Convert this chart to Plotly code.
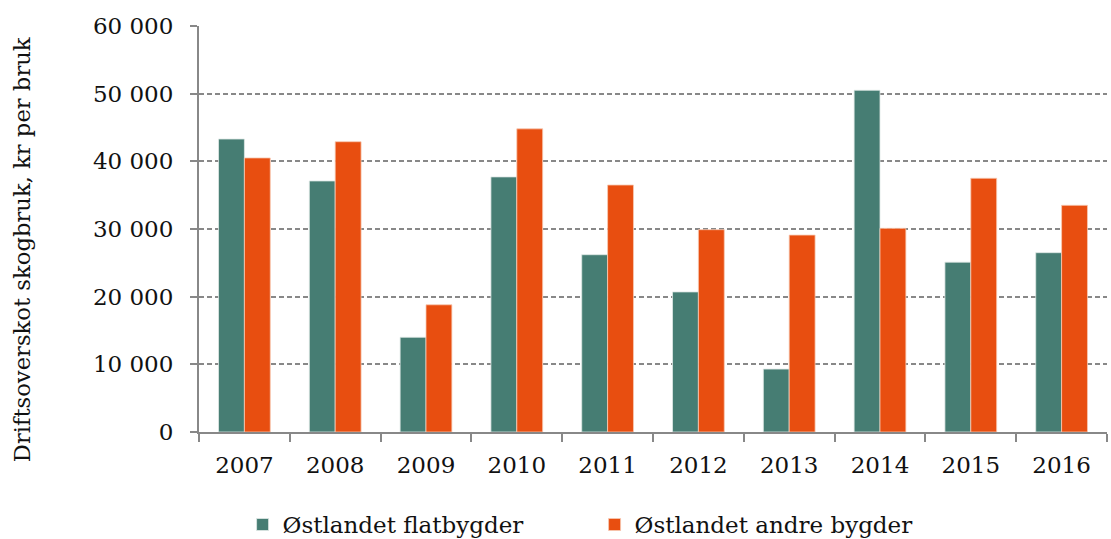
import plotly.graph_objects as go

years = ["2007", "2008", "2009", "2010", "2011", "2012", "2013", "2014", "2015", "2016"]
flatbygder = [43300, 37100, 14000, 37700, 26200, 20700, 9300, 50500, 25100, 26500]
andre_bygder = [40500, 42900, 18800, 44800, 36500, 29900, 29100, 30100, 37500, 33500]
series_names = ["Østlandet flatbygder", "Østlandet andre bygder"]
y_ticks = [0, 10000, 20000, 30000, 40000, 50000, 60000]
y_title = "Driftsoverskot skogbruk, kr per bruk"

FONT = "DejaVu Serif"
fig = go.Figure()
fig.add_trace(go.Bar(x=years, y=flatbygder, name=series_names[0],
                     marker=dict(color="#467D73", line=dict(color="#dfe9e6", width=0.8))))
fig.add_trace(go.Bar(x=years, y=andre_bygder, name=series_names[1],
                     marker=dict(color="#E84E10", line=dict(color="#f8c9b3", width=0.8))))

fig.add_annotation(text=y_title, xref="paper", yref="paper", x=-0.195, y=0.45,
                   textangle=-90, showarrow=False, xanchor="center", yanchor="middle",
                   font=dict(family=FONT, size=22.7, color="#111"))

fig.update_layout(
    width=1111, height=539,
    margin=dict(l=199, r=4, t=26, b=107, autoexpand=False),
    paper_bgcolor="white", plot_bgcolor="white",
    barmode="group", bargap=0.43, bargroupgap=0,
    separators=", ",
    font=dict(family=FONT, size=23, color="#111"),
    legend=dict(orientation="h", x=0.048, xanchor="left", y=-0.175, yanchor="top",
                font=dict(family=FONT, size=23), itemwidth=30, tracegroupgap=0,
                entrywidth=307),
    xaxis=dict(type="category", showline=True, linecolor="#888", linewidth=2,
               ticks="outside", tickson="boundaries", ticklen=8, tickwidth=2, tickcolor="#888",
               tickfont=dict(family=FONT, size=23), showgrid=False, ticklabelstandoff=11,
               automargin=False),
    yaxis=dict(range=[0, 60000], tickvals=y_ticks, tickformat=",d",
               showline=True, linecolor="#888", linewidth=2,
               ticks="outside", ticklen=7, tickwidth=2, tickcolor="#888",
               showgrid=True, gridcolor="#888", griddash="5px,3px", gridwidth=1.5,
               zeroline=False, ticklabelstandoff=12, automargin=False,
               tickfont=dict(family=FONT, size=23)),
)
fig.write_html("out.html", config={"displayModeBar": False},
               post_script="document.body.style.margin='0';document.body.style.overflow='hidden';")
